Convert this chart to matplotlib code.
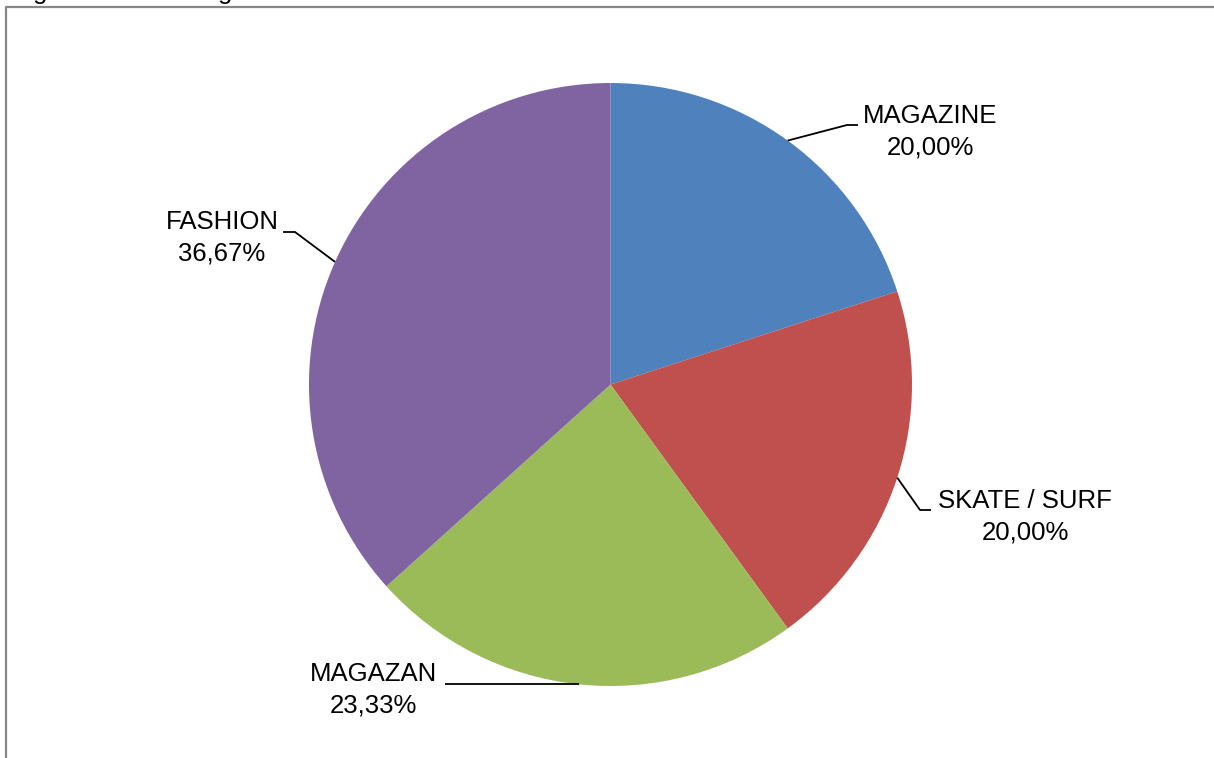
import numpy as np
import matplotlib
matplotlib.use('Agg')
import matplotlib.pyplot as plt
from matplotlib.lines import Line2D

plt.rcParams['font.family'] = ['Liberation Sans', 'DejaVu Sans']

# Share of each segment (%)
categories = ['MAGAZINE', 'SKATE / SURF', 'MAGAZAN', 'FASHION']
shares = [20.00, 20.00, 23.33, 36.67]
colors = ['#4F81BD', '#C0504D', '#9BBB59', '#8064A2']

W, H = 1214, 758
fig = plt.figure(figsize=(W / 100, H / 100), dpi=100)
ax = fig.add_axes([0, 0, 1, 1])

cx, cy, r = 610.5, H - 384.5, 301.5
wedges, _ = ax.pie(shares, colors=colors, startangle=90, counterclock=False,
                   center=(cx, cy), radius=r,
                   wedgeprops=dict(linewidth=0))
ax.set_xlim(0, W)
ax.set_ylim(0, H)
ax.set_aspect('auto')
ax.axis('off')

# label block centre, elbow point and end of leader (pixels, y measured from top)
label_pos = [(930, 132), (1025, 517), (373, 690), (222, 238)]
elbows = [(847, 125), (920, 510), (578, 684), (295, 232)]
ends = [(858, 125), (931, 510), (445, 684), (283, 232)]

for w, name, val, (tx, ty), (ex, ey), (lx, ly) in zip(
        wedges, categories, shares, label_pos, elbows, ends):
    mid = np.deg2rad((w.theta1 + w.theta2) / 2)
    px = cx + r * np.cos(mid)
    py = cy + r * np.sin(mid)
    ax.plot([px, ex, lx], [py, H - ey, H - ly], color='black', lw=1.3,
            solid_capstyle='butt')
    txt = f'{name}\n{val:.2f}%'.replace('.', ',')
    ax.text(tx, H - ty, txt, ha='center', va='center', fontsize=18.5,
            linespacing=1.38, color='black')

# tail of the caption line above the frame
for gx in (33, 218):
    fig.text(gx / W, (H + 0.5) / H, 'g', ha='left', va='baseline',
             fontsize=18.5, color='black')

# chart frame (runs off the right and bottom edges)
frame = Line2D([6 / W, 6 / W, 1.0], [0.0, (H - 7) / H, (H - 7) / H],
               transform=fig.transFigure, color='#878787', lw=1.6)
fig.add_artist(frame)

fig.savefig('out.png', dpi=100)
